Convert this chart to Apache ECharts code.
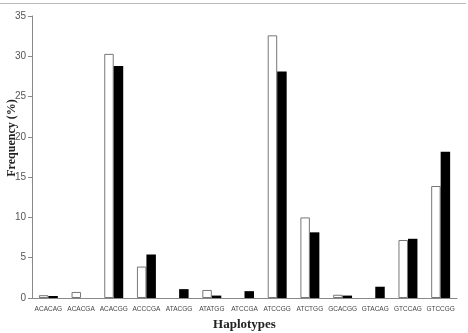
<!DOCTYPE html>
<html><head><meta charset="utf-8">
<script src="https://cdn.jsdelivr.net/npm/echarts@6/dist/echarts.min.js"></script>
<style>html,body{margin:0;padding:0;background:#fff}#c{width:468px;height:333px}</style>
</head><body><div id="c"></div>
<script>
var categories = ['ACACAG','ACACGA','ACACGG','ACCCGA','ATACGG','ATATGG','ATCCGA','ATCCGG','ATCTGG','GCACGG','GTACAG','GTCCAG','GTCCGG'];
var seriesWhite = [0.35, 0.75, 30.3, 3.9, null, 1.0, null, 32.6, 10.0, 0.4, null, 7.2, 13.9];
var seriesBlack = [0.25, null, 28.8, 5.4, 1.1, 0.3, 0.85, 28.1, 8.15, 0.3, 1.4, 7.35, 18.15];
var yTicks = [0, 5, 10, 15, 20, 25, 30, 35];

var chart = echarts.init(document.getElementById('c'));
chart.setOption({
  animation: false,
  grid: {left: 32, right: 11, top: 16, bottom: 35, containLabel: false, outerBoundsMode: 'none'},
  graphic: [
    {type: 'line', shape: {x1: 0, y1: 3.5, x2: 466, y2: 3.5}, style: {stroke: '#bbb', lineWidth: 1}},
    {type: 'text', x: 12, y: 138, rotation: Math.PI / 2,
     style: {text: 'Frequency (%)', font: 'bold 12px "Liberation Serif"', fill: '#222', align: 'center', verticalAlign: 'middle'}}
  ],
  xAxis: {
    type: 'category', data: categories,
    name: 'Haplotypes', nameLocation: 'middle', nameGap: 17,
    nameTextStyle: {fontFamily: 'Liberation Serif', fontWeight: 'bold', fontSize: 13, color: '#222'},
    axisLine: {lineStyle: {color: '#888'}},
    axisTick: {alignWithLabel: false, length: 4, lineStyle: {color: '#888'}},
    axisLabel: {interval: 0, fontFamily: 'Liberation Sans', fontSize: 6.5, color: '#444', margin: 8}
  },
  yAxis: {
    type: 'value', min: 0, max: 35, interval: 5,
    axisLine: {show: true, lineStyle: {color: '#888'}},
    axisTick: {show: true, length: 4, lineStyle: {color: '#888'}},
    splitLine: {show: false},
    axisLabel: {fontFamily: 'Liberation Sans', fontSize: 10, color: '#555', margin: 6,
      formatter: function(v){ return yTicks.indexOf(v) >= 0 ? String(v) : ''; }}
  },
  series: [
    {type: 'bar', data: seriesWhite, barGap: '0%', barCategoryGap: '42%',
     itemStyle: {color: '#fff', borderColor: '#777', borderWidth: 1}},
    {type: 'bar', data: seriesBlack,
     itemStyle: {color: '#000'}}
  ]
});
</script></body></html>
